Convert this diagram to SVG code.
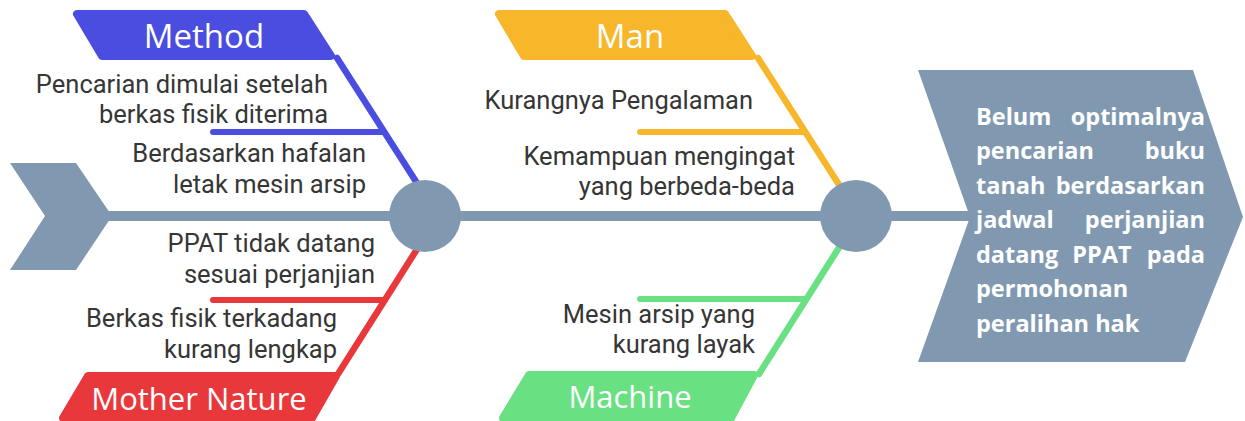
<svg xmlns="http://www.w3.org/2000/svg" width="1245" height="421" viewBox="0 0 1245 421">
<style>
.grey{fill:#8199b0}
.cause{font-family:Roboto,"Liberation Sans",sans-serif;font-size:25.5px;fill:#363636;text-anchor:end}
.lbl{font-family:"Open Sans","Noto Sans",sans-serif;font-size:31px;fill:#ffffff;text-anchor:middle}
.big{font-size:33px}
.head{font-family:"Open Sans","Noto Sans",sans-serif;font-size:23.5px;font-weight:bold;fill:#ffffff}
.ln{fill:none;stroke-width:6.5;stroke-linecap:round}
.sub{fill:none;stroke-width:6;stroke-linecap:round}
.blue{stroke:#4a4de0}
.yel{stroke:#f8b62b}
.red{stroke:#e8383b}
.grn{stroke:#69e183}
.tag{stroke-width:8;stroke-linejoin:round}
</style>
<rect width="1245" height="421" fill="#ffffff"/>
<g id="tail"><polygon class="grey" points="10,163 76,163 112,216 76,270 10,270 45,216"/></g>
<g id="connectors">
<line x1="100" y1="216" x2="980" y2="216" stroke="#8199b0" stroke-width="10"/>
<line class="ln blue" x1="337" y1="58" x2="438" y2="216"/>
<line class="sub blue" x1="213" y1="132" x2="383" y2="132"/>
<line class="ln yel" x1="758" y1="58" x2="859" y2="216"/>
<line class="sub yel" x1="640" y1="132" x2="803" y2="132"/>
<line class="ln red" x1="438" y1="216" x2="338" y2="374"/>
<line class="sub red" x1="213" y1="300" x2="385" y2="300"/>
<line class="ln grn" x1="859" y1="216" x2="759" y2="374"/>
<line class="sub grn" x1="640" y1="299" x2="805" y2="299"/>
</g>
<g id="joint-left"><circle class="grey" cx="425" cy="216" r="36"/></g>
<g id="joint-right"><circle class="grey" cx="856" cy="216" r="36"/></g>
<g id="method">
<polygon class="tag" fill="#4a4de0" stroke="#4a4de0" points="77,14 304,14 331,56 102,56"/>
<text class="lbl big" x="204" y="48">Method</text>
<text class="cause" x="328" y="93">Pencarian dimulai setelah</text>
<text class="cause" x="328" y="123">berkas fisik diterima</text>
<text class="cause" x="366" y="162">Berdasarkan hafalan</text>
<text class="cause" x="366" y="193">letak mesin arsip</text>
</g>
<g id="man">
<polygon class="tag" fill="#f8b62b" stroke="#f8b62b" points="499,14 725,14 752,56 524,56"/>
<text class="lbl big" x="630" y="48">Man</text>
<text class="cause" x="753" y="109">Kurangnya Pengalaman</text>
<text class="cause" x="795" y="165">Kemampuan mengingat</text>
<text class="cause" x="795" y="195">yang berbeda-beda</text>
</g>
<g id="mother-nature">
<polygon class="tag" fill="#e8383b" stroke="#e8383b" points="88,376 336,376 312,418 63,418"/>
<text class="lbl" x="199" y="410">Mother Nature</text>
<text class="cause" x="375" y="252">PPAT tidak datang</text>
<text class="cause" x="375" y="283">sesuai perjanjian</text>
<text class="cause" x="337" y="327">Berkas fisik terkadang</text>
<text class="cause" x="337" y="358">kurang lengkap</text>
</g>
<g id="machine">
<polygon class="tag" fill="#69e183" stroke="#69e183" points="529,375 754,375 731,418 503,418"/>
<text class="lbl" x="630" y="408">Machine</text>
<text class="cause" x="755" y="323">Mesin arsip yang</text>
<text class="cause" x="755" y="353">kurang layak</text>
</g>
<g id="effect">
<polygon class="grey" points="918,70 1193,70 1243,217 1185,362 918,362 970,217"/>
<text class="head" x="976" y="125">Belum</text>
<text class="head" x="1205" y="125" text-anchor="end">optimalnya</text>
<text class="head" x="976" y="159">pencarian</text>
<text class="head" x="1205" y="159" text-anchor="end">buku</text>
<text class="head" x="976" y="194">tanah</text>
<text class="head" x="1205" y="194" text-anchor="end">berdasarkan</text>
<text class="head" x="976" y="228">jadwal</text>
<text class="head" x="1205" y="228" text-anchor="end">perjanjian</text>
<text class="head" x="976" y="263">datang</text>
<text class="head" x="1102" y="263" text-anchor="middle">PPAT</text>
<text class="head" x="1205" y="263" text-anchor="end">pada</text>
<text class="head" x="976" y="297">permohonan</text>
<text class="head" x="976" y="332">peralihan hak</text>
</g>
</svg>
